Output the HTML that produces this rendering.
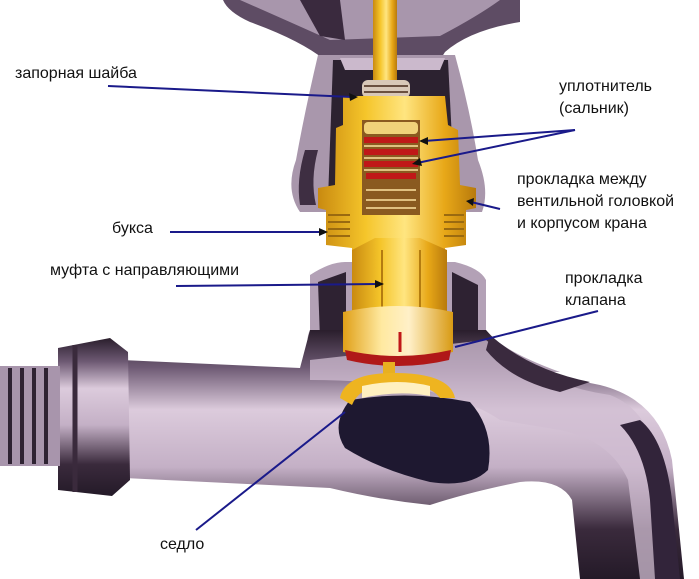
<!DOCTYPE html>
<html><head><meta charset="utf-8"><style>
html,body{margin:0;padding:0;background:#fff;}
svg{display:block}
text{font-family:"Liberation Sans",Arial,sans-serif;font-size:16px;fill:#111;}
</style></head><body>
<svg width="699" height="579" viewBox="0 0 699 579" xmlns="http://www.w3.org/2000/svg">
<defs>
<linearGradient id="pipe" x1="0" y1="0" x2="0" y2="1">
<stop offset="0" stop-color="#2a1e2c"/><stop offset="0.15" stop-color="#6e5a74"/><stop offset="0.32" stop-color="#dccbdc"/><stop offset="0.55" stop-color="#c4b0c6"/><stop offset="0.8" stop-color="#3a2a3c"/><stop offset="1" stop-color="#241a28"/>
</linearGradient>
<linearGradient id="gold" x1="0" y1="0" x2="1" y2="0">
<stop offset="0" stop-color="#c98a10"/><stop offset="0.3" stop-color="#f5c52a"/><stop offset="0.55" stop-color="#ffe580"/><stop offset="0.8" stop-color="#e8a818"/><stop offset="1" stop-color="#b87a0c"/>
</linearGradient>
<linearGradient id="ring" x1="0" y1="0" x2="1" y2="0">
<stop offset="0" stop-color="#e0a018"/><stop offset="0.35" stop-color="#ffe9a0"/><stop offset="0.6" stop-color="#fff0c8"/><stop offset="1" stop-color="#d89a14"/>
</linearGradient>
</defs>

<!-- handle -->
<path d="M223,0 L520,0 L520,22 Q470,30 445,52 L440,60 L325,60 Q300,40 250,22 Q228,12 223,0Z" fill="#5e4c64"/>
<path d="M240,0 L500,0 Q478,16 440,36 L330,40 Q290,22 240,0Z" fill="#a896ac"/>
<path d="M300,0 L340,0 L345,40 L320,36Z" fill="#3a2a3e"/>
<!-- upper neck -->
<path d="M318,55 L455,55 Q470,110 478,160 Q490,190 482,212 L300,212 Q285,190 296,160 Q305,110 318,55Z" fill="#a997ac"/>
<path d="M305,150 Q296,180 300,205 L316,205 Q310,180 318,150Z" fill="#3e2e42"/>
<path d="M333,60 L448,60 L455,200 L328,200Z" fill="#2c2230"/>
<path d="M340,58 L445,58 L440,70 L345,70Z" fill="#cbb9cc"/>
<!-- stem -->
<rect x="373" y="0" width="24" height="85" fill="url(#gold)"/>
<!-- top washer -->
<rect x="362" y="80" width="48" height="18" rx="6" fill="#d8c8b8"/>
<path d="M364,86 H408 M364,92 H408" stroke="#6a5040" stroke-width="2"/>
<!-- cartridge -->
<path d="M343,96 L445,96 L448,125 L458,130 L460,185 L476,188 L476,208 L466,210 L466,245 L445,248 L447,320 L352,320 L352,248 L326,245 L326,210 L318,208 L318,188 L335,185 L336,128 L343,125Z" fill="url(#gold)"/>
<rect x="362" y="120" width="58" height="95" fill="#8a5a20"/>
<g stroke="#c01818" stroke-width="6">
<path d="M364,140 H418 M364,152 H418 M364,164 H418 M366,176 H416"/>
</g>
<g stroke="#e0c080" stroke-width="2">
<path d="M364,146 H418 M364,158 H418 M364,170 H418 M366,190 H416 M366,200 H416 M366,208 H416"/>
</g>
<rect x="364" y="122" width="54" height="12" rx="4" fill="#f0d27a"/>
<g stroke="#9a6a10" stroke-width="2">
<path d="M328,215 H350 M328,222 H350 M328,229 H350 M328,236 H350 M444,215 H464 M444,222 H464 M444,229 H464 M444,236 H464"/>
</g>
<!-- lower neck -->
<path d="M310,275 Q330,262 345,262 L352,262 L352,330 L447,330 L447,262 L455,262 Q480,268 486,280 L486,330 Q500,350 560,372 L330,372 Q300,350 310,330Z" fill="#b3a1b6"/>
<path d="M318,282 L346,272 L346,340 L320,340Z" fill="#2e2232"/>
<path d="M452,272 L478,285 L478,335 L452,335Z" fill="#2e2232"/>
<!-- hex -->
<path d="M352,250 L375,238 L420,238 L447,250 L447,320 L352,320Z" fill="url(#gold)"/>
<line x1="382" y1="250" x2="382" y2="320" stroke="#b47c10" stroke-width="2"/>
<line x1="420" y1="250" x2="420" y2="320" stroke="#b47c10" stroke-width="2"/>
<!-- spout -->
<path d="M120,360 L300,368 L310,330 L486,330 Q520,370 600,385 Q660,400 672,460 L684,579 L580,579 L572,500 Q560,478 520,482 Q470,492 430,505 Q380,500 330,488 L125,478Z" fill="url(#pipe)"/>
<path d="M310,360 L486,340 Q540,385 610,395 Q650,410 662,470 L674,579 L640,579 L628,480 Q610,440 560,430 L500,420 Q440,380 310,380Z" fill="#d0bed2" opacity="0.75"/>
<path d="M640,420 Q665,440 672,500 L680,579 L655,579 L650,500 Q645,450 620,425Z" fill="#32243a"/>
<path d="M490,335 Q530,370 590,382 L560,392 Q510,380 486,350Z" fill="#3a2a3e"/>
<!-- cavity -->
<path d="M350,400 Q410,390 470,402 Q495,430 488,470 Q470,488 430,482 Q380,470 345,448 Q330,425 350,400Z" fill="#1e1830"/>
<!-- hex nut & thread -->
<path d="M58,348 L110,338 L128,352 L130,480 L112,496 L58,490Z" fill="url(#pipe)"/>
<line x1="75" y1="345" x2="75" y2="492" stroke="#3a2a3c" stroke-width="5"/>
<rect x="0" y="366" width="60" height="100" fill="#a895ac"/>
<g stroke="#2e2232" stroke-width="4">
<path d="M10,368 V464 M22,368 V464 M34,368 V464 M46,368 V464"/>
</g>
<!-- ring & gasket -->
<path d="M343,312 Q398,300 453,312 L453,352 Q398,362 343,352Z" fill="url(#ring)"/>
<line x1="400" y1="332" x2="400" y2="352" stroke="#c01818" stroke-width="3"/>
<path d="M345,350 Q398,362 451,350 L449,360 Q398,372 347,360Z" fill="#b01818"/>
<rect x="383" y="362" width="12" height="12" fill="#e8b020"/>
<!-- seat -->
<path d="M340,398 Q345,372 398,373 Q450,374 455,398 L440,398 Q430,384 398,384 Q360,384 352,405Z" fill="#eeb420"/>
<path d="M362,386 Q398,378 430,386 L430,396 Q398,390 362,398Z" fill="#fff0c0"/>

<!-- leader lines -->
<g stroke="#1a1a8a" stroke-width="2" fill="none">
<line x1="108" y1="86" x2="352" y2="97"/>
<line x1="575" y1="130" x2="424" y2="141"/>
<line x1="575" y1="130" x2="417" y2="163"/>
<line x1="500" y1="209" x2="471" y2="202"/>
<line x1="170" y1="232" x2="322" y2="232"/>
<line x1="176" y1="286" x2="378" y2="284"/>
<line x1="598" y1="311" x2="455" y2="347"/>
<line x1="196" y1="530" x2="345" y2="412"/>
</g>
<g fill="#111">
<path d="M358,97 L349,93 L350,101Z"/>
<path d="M419,141 L428,137 L428,145Z"/>
<path d="M412,164 L420,158 L422,166Z"/>
<path d="M466,201 L474,198 L473,206Z"/>
<path d="M328,232 L319,228 L319,236Z"/>
<path d="M384,284 L375,280 L375,288Z"/>
</g>

<!-- labels -->
<text x="15" y="78">запорная шайба</text>
<text x="559" y="91">уплотнитель</text>
<text x="559" y="113">(сальник)</text>
<text x="517" y="184">прокладка между</text>
<text x="517" y="206">вентильной головкой</text>
<text x="517" y="228">и корпусом крана</text>
<text x="112" y="233">букса</text>
<text x="50" y="275">муфта с направляющими</text>
<text x="565" y="283">прокладка</text>
<text x="565" y="305">клапана</text>
<text x="160" y="549">седло</text>
</svg>
</body></html>
